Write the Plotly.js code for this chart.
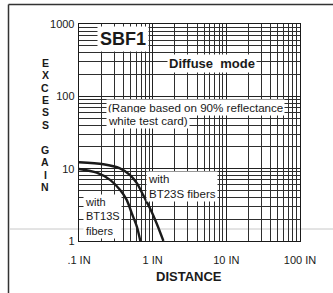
<!DOCTYPE html>
<html><head><meta charset="utf-8">
<script src="https://cdn.plot.ly/plotly-3.0.1.min.js"></script>
<style>html,body{margin:0;padding:0;background:#fff}#chart{width:333px;height:293px}</style>
</head><body><div id="chart"></div><script>
// Data
const bt23sDistance = [0.1, 0.214, 0.36, 0.49, 0.61, 0.745, 0.92, 1.13, 1.4];
const bt23sGain     = [12.25, 11.5, 10.1, 8.2, 6.3, 4.3, 2.83, 1.76, 1.0];
const bt13sDistance = [0.1, 0.174, 0.264, 0.36, 0.444, 0.52, 0.61, 0.68];
const bt13sGain     = [9.9, 8.8, 7.0, 5.1, 3.7, 2.42, 1.58, 1.0];
const xTickValues = [0.1, 1, 10, 100];
const xTickLabels = ['.1 IN', '1 IN', '10 IN', '100 IN'];
const yTickValues = [1, 10, 100, 1000];
const yTickLabels = ['1', '10', '100', '1000'];
const yTitleLetters = ['E','X','C','E','S','S','','G','A','I','N'];

const W = 333, H = 293;
const M = {l: 79, r: 33, t: 24, b: 52};
const pw = W - M.l - M.r, ph = H - M.t - M.b;
const px2x = p => (p - M.l) / pw;
const py2y = p => (H - M.b - p) / ph;

const FONT = 'Liberation Sans, Arial, Helvetica, sans-serif';
const INK = '#1a1a1a';

const lineStyle = {color: INK, width: 2.4, shape: 'spline', smoothing: 0.8};
const traces = [
  {x: bt23sDistance, y: bt23sGain, type: 'scatter', mode: 'lines', line: lineStyle, name: 'BT23S', hoverinfo: 'skip'},
  {x: bt13sDistance, y: bt13sGain, type: 'scatter', mode: 'lines', line: lineStyle, name: 'BT13S', hoverinfo: 'skip'}
];

const gridMajor = {showgrid: true, gridcolor: '#222', gridwidth: 1.3};
const minor = {dtick: 'D1', showgrid: true, gridcolor: '#2e2e2e', gridwidth: 1, ticks: ''};

const annotations = [];
// stacked y title letters
const letterStart = 63, letterStep = 12.3;
yTitleLetters.forEach((ch, i) => {
  if (!ch) return;
  const extra = i > 6 ? 1 : 0;
  annotations.push({xref: 'paper', yref: 'paper', x: px2x(45), y: py2y(letterStart + i * letterStep + extra),
    text: '<b>' + ch + '</b>', showarrow: false, xanchor: 'center', yanchor: 'middle',
    font: {family: FONT, size: 10.5, color: INK}});
});
annotations.push({xref: 'paper', yref: 'paper', x: px2x(189), y: py2y(276), text: '<b>DISTANCE</b>',
  showarrow: false, xanchor: 'center', yanchor: 'middle', font: {family: FONT, size: 13, color: INK}});
annotations.push({xref: 'paper', yref: 'paper', x: px2x(97), y: py2y(39), text: '<b>SBF1</b>',
  showarrow: false, xanchor: 'left', yanchor: 'middle', bgcolor: '#fff', borderpad: 2,
  font: {family: FONT, size: 18, color: INK}});
annotations.push({xref: 'paper', yref: 'paper', x: px2x(212), y: py2y(63), text: '<b>Diffuse  mode</b>',
  showarrow: false, xanchor: 'center', yanchor: 'middle', bgcolor: '#fff', borderpad: 1,
  font: {family: FONT, size: 13, color: INK}});
annotations.push({xref: 'paper', yref: 'paper', x: px2x(106), y: py2y(107), text: '(Range based on 90% reflectance',
  showarrow: false, xanchor: 'left', yanchor: 'middle', bgcolor: '#fff', borderpad: 1,
  font: {family: FONT, size: 11.6, color: INK}});
annotations.push({xref: 'paper', yref: 'paper', x: px2x(106), y: py2y(120), text: 'white test card)',
  showarrow: false, xanchor: 'left', yanchor: 'middle', bgcolor: '#fff', borderpad: 1,
  font: {family: FONT, size: 11.6, color: INK}});
annotations.push({xref: 'paper', yref: 'paper', x: px2x(146), y: py2y(186), text: 'with<br>BT23S fibers',
  showarrow: false, xanchor: 'left', yanchor: 'middle', align: 'left', bgcolor: '#fff', borderpad: 1,
  font: {family: FONT, size: 11.5, color: INK}});
annotations.push({xref: 'paper', yref: 'paper', x: px2x(83), y: py2y(216), text: 'with<br>BT13S<br>fibers',
  showarrow: false, xanchor: 'left', yanchor: 'middle', align: 'left', bgcolor: '#fff', borderpad: 1,
  font: {family: FONT, size: 11, color: INK}});

const shapes = [
  // outer frame (top and left edges of the scanned page)
  {type: 'line', xref: 'paper', yref: 'paper', x0: px2x(8.5), x1: px2x(340), y0: py2y(4.5), y1: py2y(4.5), line: {color: '#333', width: 1.5}},
  {type: 'line', xref: 'paper', yref: 'paper', x0: px2x(8.5), x1: px2x(8.5), y0: py2y(4.5), y1: py2y(300), line: {color: '#333', width: 1.5}},
  // faint fold line across the scan
  {type: 'line', xref: 'paper', yref: 'paper', x0: px2x(10), x1: px2x(333), y0: py2y(229), y1: py2y(229), line: {color: '#c8c8c8', width: 1}, layer: 'below'}
];

const layout = {
  width: W, height: H, margin: M, showlegend: false,
  paper_bgcolor: '#fff', plot_bgcolor: '#fff',
  font: {family: FONT, size: 11, color: INK},
  xaxis: Object.assign({type: 'log', range: [-1, 2], tickvals: xTickValues, ticktext: xTickLabels,
    ticks: '', ticklabelstandoff: 8, showline: true, mirror: true, linecolor: INK, linewidth: 1.3, zeroline: false,
    tickfont: {family: FONT, size: 11, color: INK}, minor: minor}, gridMajor),
  yaxis: Object.assign({type: 'log', range: [0, 3], tickvals: yTickValues, ticktext: yTickLabels,
    ticks: '', ticklabelstandoff: 1, showline: true, mirror: true, linecolor: INK, linewidth: 1.3, zeroline: false,
    tickfont: {family: FONT, size: 11, color: INK}, minor: minor}, gridMajor),
  annotations: annotations, shapes: shapes
};

Plotly.newPlot('chart', traces, layout, {displayModeBar: false, staticPlot: true});
</script></body></html>
